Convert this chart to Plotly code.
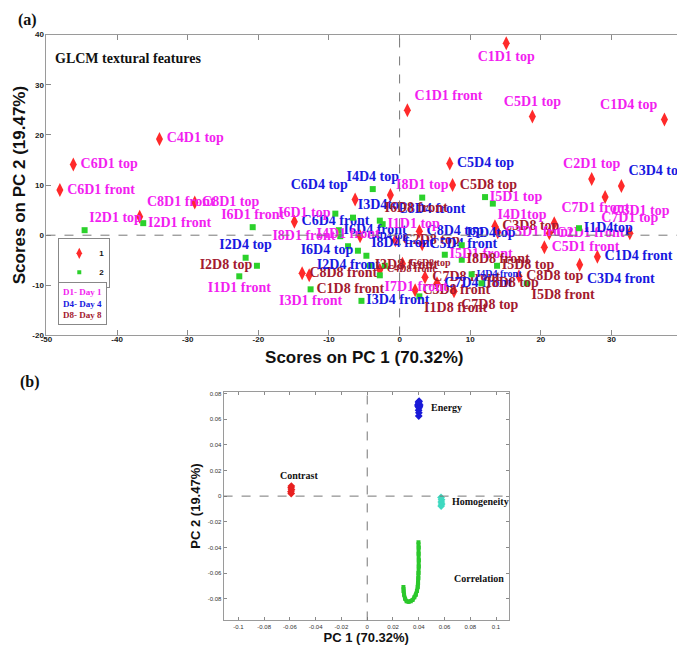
import plotly.graph_objects as go

# ---- panel (a): PCA scores of GLCM textural features ----
sample_names = [
    "C1D1 top", "C5D1 top", "C1D4 top", "C1D1 front", "C4D1 top", "C6D1 top",
    "C6D1 front", "C8D1 top", "C8D1 front", "I2D1 front", "I2D1 top", "C2D1 top",
    "C3D4 top", "C5D4 top", "C5D8 top", "I5D1 top", "I4D1top", "C3D1 top",
    "C7D1 front", "I1D4top", "C7D1 top", "C2D1 front", "C3D8 top", "C3D1 front",
    "I5D4top", "C5D1 front", "C1D4 front", "C3D4 front", "C8D8 top", "I5D8 front",
    "I5D8 top", "I4D4 top", "C6D4 top", "C8D4 front", "I8D1 top", "I6D1 top",
    "I3D4top", "I6D8 front", "C6D4 front", "I6D1 front", "I6D4 front", "I8D1 front",
    "I1D1 top", "C8D4 top", "I4D1 front", "I6D4 top", "I8D4 front", "I2D4 front",
    "C8D8 front", "C1D8 front", "I7D1 front", "I3D1 front", "I3D4 front", "I1D8 front",
    "C3D8 front", "C7D8 top", "C7D8 front", "C2D8 top", "C5D4 front", "I5D1 front",
    "I8D8 front", "I4D4 front", "C4D8 front", "C6D8 top", "C4D4 top", "C7D4 front",
    "I8D8 top", "I3D8 front", "I2D4 top", "I2D8 top", "I1D1 front",
]
pc1_scores = [
    15.1, 18.8, 37.5, 1.1, -34.0, -46.2,
    -48.1, -29.0, -36.8, -36.3, -44.6, 27.2,
    31.4, 7.1, 7.5, 12.1, 13.2, 29.1,
    21.9, 25.4, 32.6, 21.2, 13.5, 13.9,
    8.8, 20.5, 28.0, 25.5, 16.9, 18.0,
    13.8, -3.8, -6.3, -1.3, 3.2, -9.1,
    -6.6, -2.8, -14.9, -20.8, -8.6, -8.4,
    -2.4, 2.8, -7.3, -5.9, -4.7, -2.1,
    -13.8, -12.8, -2.8, -12.6, -5.4, 2.8,
    2.2, 7.7, 3.6, -0.6, 3.2, 6.4,
    8.8, 10.2, -2.8, 0.4, -5.6, 5.3,
    11.6, -4.2, -21.8, -20.2, -22.7,
]
pc2_scores = [
    38.3, 23.7, 23.1, 24.9, 19.2, 14.1,
    9.0, 6.5, 3.7, 2.4, 1.0, 11.2,
    9.8, 14.3, 10.0, 7.6, 6.3, 7.6,
    2.4, 1.4, 0.4, 0.4, 1.8, 0.6,
    -2.0, -2.4, -4.3, -5.9, -8.2, -9.6,
    -6.1, 9.2, 7.1, 8.0, 7.5, 4.3,
    3.5, 2.9, 2.7, 1.6, 1.0, -0.2,
    2.2, 0.8, -2.2, -3.1, -4.1, -6.1,
    -7.6, -8.0, -8.0, -10.8, -13.1, -12.2,
    -11.0, -11.2, -8.4, -1.0, -1.8, -3.9,
    -4.9, -7.8, -6.9, -5.7, -0.2, -9.6,
    -9.6, -6.1, -4.5, -6.1, -8.2,
]
x_ticks = [-50, -40, -30, -20, -10, 0, 10, 20, 30, 40]
x_tick_text = ["-50", "-40", "-30", "-20", "-10", "0", "10", "20", "30", "40"]
y_ticks = [-20, -10, 0, 10, 20, 30, 40]
y_tick_text = ["-20", "-10", "0", "10", "20", "30", "40"]

# ---- panel (b): PCA loadings ----
energy_pc1 = [0.0400, 0.0401, 0.0399, 0.0402, 0.0396, 0.0405, 0.0393, 0.0408, 0.0400, 0.0398, 0.0403]
energy_pc2 = [0.0625, 0.0650, 0.0670, 0.0690, 0.0700, 0.0700, 0.0710, 0.0710, 0.0725, 0.0735, 0.0740]
contrast_pc1 = [-0.0590, -0.0592, -0.0588, -0.0591, -0.0589]
contrast_pc2 = [0.0020, 0.0035, 0.0050, 0.0065, 0.0078]
homog_pc1 = [0.0573, 0.0577, 0.0575, 0.0578, 0.0574]
homog_pc2 = [-0.0010, -0.0028, -0.0045, -0.0062, -0.0078]
corr_pc1 = [0.0398, 0.0400, 0.0399, 0.0401, 0.0400, 0.0398, 0.0397, 0.0395, 0.0392, 0.0386,
            0.0378, 0.0366, 0.0352, 0.0338, 0.0322, 0.0306, 0.0294, 0.0286, 0.0282, 0.0281]
corr_pc2 = [-0.036, -0.040, -0.045, -0.050, -0.055, -0.060, -0.064, -0.068, -0.071, -0.074,
            -0.077, -0.079, -0.081, -0.082, -0.0825, -0.082, -0.080, -0.077, -0.074, -0.071]
b_x_ticks = [-0.1, -0.08, -0.06, -0.04, -0.02, 0, 0.02, 0.04, 0.06, 0.08, 0.1]
b_x_tick_text = ["-0.1", "-0.08", "-0.06", "-0.04", "-0.02", "0", "0.02", "0.04", "0.06", "0.08", "0.1"]
b_y_ticks = [-0.08, -0.06, -0.04, -0.02, 0, 0.02, 0.04, 0.06, 0.08]
b_y_tick_text = ["-0.08", "-0.06", "-0.04", "-0.02", "0", "0.02", "0.04", "0.06", "0.08"]

# label placement relative to each marker (same order as sample_names)
label_anchor = [
    "bottom center", "top center", "top left", "top right", "middle right", "middle right",
    "middle right", "middle right", "top right", "middle right", "top right", "top center",
    "top right", "middle right", "middle right", "middle right", "bottom right", "bottom right",
    "top right", "middle right", "top center", "middle right", "middle right", "middle right",
    "top right", "middle right", "middle right", "bottom right", "middle right", "bottom right",
    "middle right", "top center", "top left", "bottom right", "top center", "middle left",
    "top right", "top right", "middle right", "top center", "middle right", "middle left",
    "middle right", "middle right", "top center", "middle left", "top right", "middle left",
    "middle right", "bottom right", "bottom right", "bottom center", "middle right", "bottom right",
    "middle right", "bottom right", "middle right", "middle right", "middle right", "middle right",
    "middle right", "middle right", "middle right", "middle right", "middle right", "middle right",
    "middle right", "middle right", "top center", "middle left", "bottom center",
]
small_labels = {"I4D4 front", "C4D8 front", "C6D8 top", "C4D4 top"}
day_colors = {"1": "#f21ef0", "4": "#1818e0", "8": "#a3192f"}
day_override = {"C1D4 top": "1"}

SERIF = "Liberation Serif"
SANS = "Liberation Sans"
W, H = 685, 649

fig = go.Figure()

classes = [("1", "C", "diamond-tall", "#ff2a2a", 10), ("2", "I", "square", "#2bd12b", 6)]
for cls_name, prefix, symbol, mcolor, msize in classes:
    idx = [i for i, n in enumerate(sample_names) if n.startswith(prefix)]
    names = [sample_names[i] for i in idx]
    fig.add_trace(go.Scatter(
        x=[pc1_scores[i] for i in idx],
        y=[pc2_scores[i] for i in idx],
        mode="markers+text",
        showlegend=False,
        text=["<b>%s</b>" % n for n in names],
        textposition=[label_anchor[i] for i in idx],
        textfont=dict(
            family=SERIF,
            size=[10 if n in small_labels else 14 for n in names],
            color=[day_colors[day_override.get(n, n[3])] for n in names],
        ),
        marker=dict(symbol=symbol, size=msize, color=mcolor, line=dict(width=0)),
        cliponaxis=False,
        xaxis="x", yaxis="y",
    ))
    # legend entry only
    fig.add_trace(go.Scatter(
        x=[None], y=[None], mode="markers", name=cls_name,
        marker=dict(symbol=symbol, size=msize - 2, color=mcolor, line=dict(width=0)),
        xaxis="x", yaxis="y",
    ))

# panel b traces
fig.add_trace(go.Scatter(x=energy_pc1, y=energy_pc2, mode="markers", showlegend=False,
                         marker=dict(symbol="diamond", size=6, color="#1a1ad8"),
                         xaxis="x2", yaxis="y2"))
fig.add_trace(go.Scatter(x=contrast_pc1, y=contrast_pc2, mode="markers", showlegend=False,
                         marker=dict(symbol="diamond", size=6, color="#e82020"),
                         xaxis="x2", yaxis="y2"))
fig.add_trace(go.Scatter(x=homog_pc1, y=homog_pc2, mode="markers", showlegend=False,
                         marker=dict(symbol="diamond", size=6, color="#3fd9c0"),
                         xaxis="x2", yaxis="y2"))
fig.add_trace(go.Scatter(x=corr_pc1, y=corr_pc2, mode="lines+markers", showlegend=False,
                         line=dict(color="#2bc82b", width=4),
                         marker=dict(symbol="square", size=4, color="#2bc82b"),
                         xaxis="x2", yaxis="y2"))

axis_common = dict(showgrid=False, zeroline=False, showline=True, linecolor="#9a9a9a",
                   linewidth=1, mirror="ticks", ticks="inside", tickcolor="#8a8a8a")

fig.update_layout(
    width=W, height=H,
    margin=dict(l=0, r=0, t=0, b=0),
    plot_bgcolor="white", paper_bgcolor="white",
    xaxis=dict(domain=[33 / W, 679 / W], range=[-50, 40], tickvals=x_ticks, ticktext=x_tick_text,
               ticklen=5, anchor="y", ticklabelstandoff=-4,
               tickfont=dict(family=SANS, size=8, color="#222", weight="bold"),
               title=dict(text="Scores on PC 1 (70.32%)", standoff=8,
                          font=dict(family=SANS, size=17, color="#111", weight="bold")),
               **axis_common),
    yaxis=dict(domain=[1 - 328 / H, 1 - 23 / H], range=[-20, 40], tickvals=y_ticks, ticktext=y_tick_text,
               ticklen=5, anchor="x",
               tickfont=dict(family=SANS, size=8, color="#222", weight="bold"),
               title=dict(text="Scores on PC 2 (19.47%)", standoff=2,
                          font=dict(family=SANS, size=17, color="#111", weight="bold")),
               **axis_common),
    xaxis2=dict(domain=[213 / W, 503 / W], range=[-0.1115, 0.11], tickvals=b_x_ticks, ticktext=b_x_tick_text,
                ticklen=3, anchor="y2",
                tickfont=dict(family=SANS, size=6, color="#333"),
                title=dict(text="PC 1 (70.32%)", standoff=4,
                           font=dict(family=SANS, size=13, color="#111", weight="bold")),
                **axis_common),
    yaxis2=dict(domain=[1 - 617 / H, 1 - 385 / H], range=[-0.097, 0.0815], tickvals=b_y_ticks, ticktext=b_y_tick_text,
                ticklen=3, anchor="x2",
                tickfont=dict(family=SANS, size=6, color="#333"),
                title=dict(text="PC 2 (19.47%)", standoff=4,
                           font=dict(family=SANS, size=13, color="#111", weight="bold")),
                **axis_common),
    legend=dict(x=45 / W, y=1 - 229 / H, xanchor="left", yanchor="top",
                bgcolor="white", bordercolor="#888", borderwidth=1,
                itemwidth=30, tracegroupgap=0, maxheight=80,
                font=dict(family=SANS, size=8, color="#111", weight="bold")),
)

# dashed zero lines
for xr, yr in [("x", "y"), ("x2", "y2")]:
    fig.add_shape(type="line", xref=xr, yref=yr + " domain", x0=0, x1=0, y0=0, y1=1,
                  line=dict(color="#777", width=1, dash="dash"))
    fig.add_shape(type="line", xref=xr + " domain", yref=yr, x0=0, x1=1, y0=0, y1=0,
                  line=dict(color="#777", width=1, dash="dash"))

# panel titles / captions
fig.add_annotation(text="<b>(a)</b>", xref="paper", yref="paper", x=2 / W, y=1 - 8 / H,
                   xanchor="left", yanchor="middle", showarrow=False,
                   font=dict(family=SERIF, size=16, color="#111"))
fig.add_annotation(text="<b>(b)</b>", xref="paper", yref="paper", x=4 / W, y=1 - 375 / H,
                   xanchor="left", yanchor="middle", showarrow=False,
                   font=dict(family=SERIF, size=16, color="#111"))
fig.add_annotation(text="<b>GLCM textural features</b>", xref="x domain", yref="y domain",
                   x=0.011, y=0.921, xanchor="left", yanchor="middle", showarrow=False,
                   font=dict(family=SERIF, size=14, color="#111"))

day_box = "<br>".join(
    "<span style='color:%s'><b>D%s- Day %s</b></span>" % (day_colors[d], d, d) for d in ["1", "4", "8"]
)
fig.add_annotation(text=day_box, xref="paper", yref="paper", x=45 / W, y=1 - 274 / H,
                   xanchor="left", yanchor="top", align="left", showarrow=False,
                   bordercolor="#888", borderwidth=1, borderpad=4, bgcolor="white",
                   font=dict(family=SERIF, size=9))

# loading labels in panel b
def top_point(xs, ys):
    i = max(range(len(ys)), key=lambda k: ys[k])
    return xs[i], ys[i]

ex, ey = top_point(energy_pc1, energy_pc2)
cx, cy = top_point(contrast_pc1, contrast_pc2)
hx, hy = homog_pc1[2], homog_pc2[2]
mx, my = corr_pc1[6], corr_pc2[6]
for txt, x, y, xa, ya, xs, ys in [
    ("Energy", ex, ey, "left", "middle", 10, -6),
    ("Contrast", cx, cy, "center", "bottom", 8, 3),
    ("Homogeneity", hx, hy, "left", "middle", 9, 0),
    ("Correlation", mx, my, "left", "middle", 34, 0),
]:
    fig.add_annotation(text="<b>%s</b>" % txt, xref="x2", yref="y2", x=x, y=y,
                       xanchor=xa, yanchor=ya, xshift=xs, yshift=ys, showarrow=False,
                       font=dict(family=SERIF, size=10, color="#111"))

fig.write_html("out.html")
